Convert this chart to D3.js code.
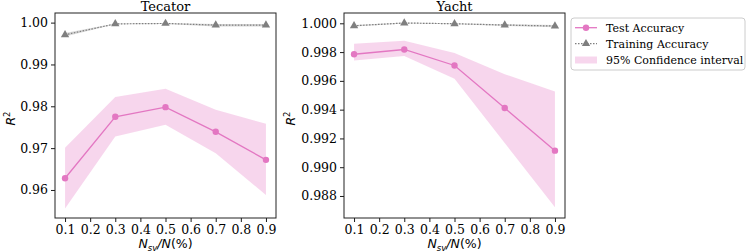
<!DOCTYPE html>
<html>
<head>
<meta charset="utf-8">
<script src="https://cdn.jsdelivr.net/npm/d3@7"></script>
<style>
  body { margin: 0; background: #fff; }
  svg text { fill: #000; }
</style>
</head>
<body>
<svg id="chart"></svg>
<script>
// x positions (fraction of support vectors)
const nsv = [0.1, 0.3, 0.5, 0.7, 0.9];
const xTicks = [0.1, 0.2, 0.3, 0.4, 0.5, 0.6, 0.7, 0.8, 0.9];

// Tecator
const tecTest = [0.9628, 0.9775, 0.9798, 0.9739, 0.9672];
const tecTestLo = [0.9556, 0.9728, 0.9756, 0.9688, 0.9588];
const tecTestHi = [0.9701, 0.9822, 0.9842, 0.9792, 0.9758];
const tecTrain = [0.9971, 0.9997, 0.9998, 0.9994, 0.9994];
const tecTrainLo = [0.9967, 0.9996, 0.9997, 0.9991, 0.9991];
const tecTrainHi = [0.9975, 0.9998, 0.9999, 0.9997, 0.9997];
const tecYTicks = [0.96, 0.97, 0.98, 0.99, 1.00];

// Yacht
const yacTest = [0.99785, 0.99818, 0.99707, 0.99411, 0.99115];
const yacTestLo = [0.99742, 0.99772, 0.99614, 0.99168, 0.98722];
const yacTestHi = [0.99858, 0.99879, 0.99793, 0.99646, 0.99526];
const yacTrain = [0.99983, 1.00002, 0.99997, 0.99988, 0.99981];
const yacTrainLo = [0.99978, 0.99999, 0.99994, 0.99982, 0.99973];
const yacTrainHi = [0.99988, 1.00005, 1.00000, 0.99994, 0.99989];
const yacYTicks = [0.988, 0.990, 0.992, 0.994, 0.996, 0.998, 1.000];

const legendLabels = ["Test Accuracy", "Training Accuracy", "95% Confidence interval"];

const W = 748, H = 252;
const pink = "#e377c2", grey = "#7f7f7f";
const serif = "'DejaVu Serif', serif";
const sans = "'DejaVu Sans', sans-serif";

const svg = d3.select("#chart").attr("width", W).attr("height", H);

function drawPanel(p) {
  const left = p.left, top = 13, width = 221, height = 205;
  const g = svg.append("g").attr("transform", `translate(${left},${top})`);

  const x = d3.scaleLinear().domain([0.06, 0.94]).range([0, width]);
  const y = d3.scaleLinear().domain(p.yDomain).range([height, 0]);

  const rows = nsv.map((v, i) => ({
    x: v, test: p.test[i], lo: p.lo[i], hi: p.hi[i],
    train: p.train[i], tlo: p.tlo[i], thi: p.thi[i]
  }));

  // training band + line
  g.append("path").datum(rows)
    .attr("d", d3.area().x(d => x(d.x)).y0(d => y(d.tlo)).y1(d => y(d.thi)))
    .attr("fill", grey).attr("opacity", 0.3);
  g.append("path").datum(rows)
    .attr("d", d3.line().x(d => x(d.x)).y(d => y(d.train)))
    .attr("fill", "none").attr("stroke", grey).attr("stroke-width", 1.2)
    .attr("stroke-dasharray", "1.5,1.5");
  g.selectAll(".tri").data(rows).enter().append("path")
    .attr("d", d3.symbol(d3.symbolTriangle, 30))
    .attr("transform", d => `translate(${x(d.x)},${y(d.train)})`)
    .attr("fill", grey);

  // test CI band + line
  g.append("path").datum(rows)
    .attr("d", d3.area().x(d => x(d.x)).y0(d => y(d.lo)).y1(d => y(d.hi)))
    .attr("fill", pink).attr("opacity", 0.3);
  g.append("path").datum(rows)
    .attr("d", d3.line().x(d => x(d.x)).y(d => y(d.test)))
    .attr("fill", "none").attr("stroke", pink).attr("stroke-width", 1.3);
  g.selectAll(".dot").data(rows).enter().append("circle")
    .attr("cx", d => x(d.x)).attr("cy", d => y(d.test)).attr("r", 3.2)
    .attr("fill", pink);

  // axes
  const xa = g.append("g").attr("transform", `translate(0,${height})`)
    .call(d3.axisBottom(x).tickValues(xTicks).tickFormat(d3.format(".1f"))
      .tickSize(4).tickPadding(3).tickSizeOuter(0));
  const ya = g.append("g")
    .call(d3.axisLeft(y).tickValues(p.yTicks).tickFormat(d3.format(p.fmt))
      .tickSize(4).tickPadding(3).tickSizeOuter(0));
  [xa, ya].forEach(a => {
    a.select(".domain").remove();
    a.selectAll("line").attr("stroke", "#000").attr("stroke-width", 0.9);
    a.selectAll("text").attr("font-family", serif).attr("font-size", 12.5).attr("fill", "#000");
  });

  // frame
  g.append("rect").attr("width", width).attr("height", height)
    .attr("fill", "none").attr("stroke", "#222").attr("stroke-width", 1);

  // title
  g.append("text").attr("x", width / 2).attr("y", -2.5)
    .attr("text-anchor", "middle").attr("font-family", serif).attr("font-size", 13)
    .text(p.title);

  // x label
  const xl = g.append("text").attr("x", width / 2).attr("y", height + 30)
    .attr("text-anchor", "middle").attr("font-family", sans).attr("font-size", 12.5);
  xl.append("tspan").attr("font-style", "italic").text("N");
  xl.append("tspan").attr("font-style", "italic").attr("font-size", 8.5).attr("dy", 2.5).text("sv");
  xl.append("tspan").attr("dy", -2.5).attr("font-style", "italic").text("/N");
  xl.append("tspan").text("(%)");

  // y label
  const yl = g.append("text")
    .attr("transform", `translate(${p.yLabelX},${height / 2 + 3}) rotate(-90)`)
    .attr("text-anchor", "middle").attr("font-family", sans).attr("font-size", 12.5);
  yl.append("tspan").attr("font-style", "italic").text("R");
  yl.append("tspan").attr("font-size", 8.5).attr("dy", -5).text("2");
}

drawPanel({
  left: 55, title: "Tecator", yDomain: [0.9533, 1.0023], yTicks: tecYTicks, fmt: ".2f",
  test: tecTest, lo: tecTestLo, hi: tecTestHi, train: tecTrain, tlo: tecTrainLo, thi: tecTrainHi,
  yLabelX: -40
});
drawPanel({
  left: 344, title: "Yacht", yDomain: [0.98647, 1.000716], yTicks: yacYTicks, fmt: ".3f",
  test: yacTest, lo: yacTestLo, hi: yacTestHi, train: yacTrain, tlo: yacTrainLo, thi: yacTrainHi,
  yLabelX: -49
});

// legend
const lg = svg.append("g").attr("transform", "translate(571,18)");
lg.append("rect").attr("width", 174).attr("height", 52).attr("rx", 3)
  .attr("fill", "#fff").attr("stroke", "#ccc").attr("stroke-width", 1);
const rowY = [9.7, 25.7, 42];
// test accuracy
lg.append("line").attr("x1", 4).attr("x2", 26).attr("y1", rowY[0]).attr("y2", rowY[0])
  .attr("stroke", pink).attr("stroke-width", 1.3);
lg.append("circle").attr("cx", 15).attr("cy", rowY[0]).attr("r", 3.2).attr("fill", pink);
// training accuracy
lg.append("line").attr("x1", 4).attr("x2", 26).attr("y1", rowY[1]).attr("y2", rowY[1])
  .attr("stroke", grey).attr("stroke-width", 1.2).attr("stroke-dasharray", "1.5,1.5");
lg.append("path").attr("d", d3.symbol(d3.symbolTriangle, 30))
  .attr("transform", `translate(15,${rowY[1]})`).attr("fill", grey);
// CI
lg.append("rect").attr("x", 4).attr("y", rowY[2] - 3.5).attr("width", 22).attr("height", 7)
  .attr("fill", pink).attr("opacity", 0.3);
lg.selectAll(".lab").data(legendLabels).enter().append("text")
  .attr("x", 35).attr("y", (d, i) => rowY[i] + 4)
  .attr("font-family", serif).attr("font-size", 11)
  .text(d => d);
</script>
</body>
</html>
